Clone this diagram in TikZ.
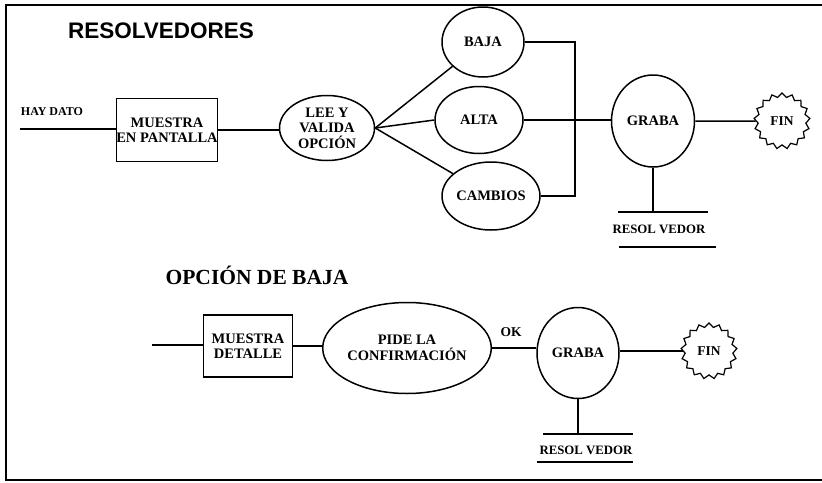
\documentclass[tikz,border=0pt]{standalone}
\usepackage{fontspec}
\setmainfont{Liberation Serif}
\newfontfamily\sansbold{Liberation Sans}
\usetikzlibrary{shapes.geometric}
\tikzset{
  lbl/.style={font=\fontsize{14.5}{15.5}\selectfont\bfseries, align=center, inner sep=0pt},
  smalllbl/.style={lbl, font=\fontsize{13.5}{15}\selectfont\bfseries},
  storelbl/.style={lbl, font=\fontsize{12.8}{14}\selectfont\bfseries},
  procbox/.style={lbl, draw, line width=1.5pt, rectangle},
  procell/.style={lbl, draw, line width=1.5pt, ellipse, inner sep=0pt},
  finstar/.style={smalllbl, draw, line width=1.2pt, star, star points=17, star point ratio=1.17, minimum size=56pt},
  conn/.style={line width=1.5pt},
}
\begin{document}
\begin{tikzpicture}[x=1pt, y=-1pt]
\useasboundingbox (0,0) rectangle (822,482);
% frame
\draw[line width=1.4pt] (822,5) -- (6,5) -- (6,480) -- (822,480);

% ---------- RESOLVEDORES ----------
\node[font=\sansbold\bfseries\fontsize{22.5}{24}\selectfont, inner sep=0pt] (title1) at (161,31) {RESOLVEDORES};
\node[lbl, font=\fontsize{12}{13}\selectfont\bfseries] (hay) at (52,112) {HAY DATO};
\coordinate (start1) at (20,129);
\node[procbox, minimum width=101pt, minimum height=63pt] (box1) at (167,130) {MUESTRA\\EN PANTALLA};
\node[procell, minimum width=95pt, minimum height=65pt] (lee) at (327,128) {LEE Y\\VALIDA\\OPCIÓN};
\node[procell, minimum width=82pt, minimum height=70pt] (baja) at (483,42) {BAJA};
\node[procell, minimum width=88pt, minimum height=67pt] (alta) at (479,120) {ALTA};
\node[procell, minimum width=86pt, minimum height=68pt] (cambios) at (491,196) {CAMBIOS};
\node[procell, minimum width=83pt, minimum height=92pt] (graba) at (653,121) {GRABA};
\node[finstar] (fin1) at (782,121) {FIN};
\coordinate (join) at (575,42);
\coordinate (bar1) at (660,212);
\node[storelbl] (res1) at (659,229) {RESOL VEDOR};

\draw[conn] (start1) -- (box1.west |- start1);
\draw[conn] (box1.east) -- (lee.west |- box1.east);
\draw[conn] (lee.east) -- (baja);
\draw[conn] (lee.east) -- (alta.west);
\draw[conn] (lee.east) -- (cambios);
\draw[conn] (baja.east) -- (join) -- (join |- cambios.east) -- (cambios.east);
\draw[conn] (alta.east) -- (graba.west |- alta.east);
\draw[conn] (graba.east) -- (fin1.180);
\draw[conn] (graba.south) -- (graba.south |- bar1);
\draw[conn] ([xshift=-42pt]bar1) -- ([xshift=48pt]bar1);
\draw[line width=1.2pt] ([xshift=-41pt,yshift=-35pt]bar1) -- ([xshift=56pt,yshift=-35pt]bar1);

% ---------- OPCION DE BAJA ----------
\node[font=\fontsize{21.5}{23}\selectfont\bfseries, inner sep=0pt] (title2) at (257,275) {OPCIÓN DE BAJA};
\coordinate (start2) at (152,345);
\node[procbox, minimum width=89pt, minimum height=62pt] (box2) at (248,346) {MUESTRA\\DETALLE};
\node[procell, minimum width=127pt, minimum height=91pt] (pide) at (407,348) {PIDE LA\\CONFIRMACIÓN};
\node[procell, minimum width=82pt, minimum height=91pt] (graba2) at (578,353) {GRABA};
\node[smalllbl] (ok) at (511,332) {OK};
\node[finstar] (fin2) at (709,351) {FIN};
\coordinate (bar2) at (582,434);
\node[storelbl] (res2) at (586,450) {RESOL VEDOR};

\draw[conn] (start2) -- (box2.west |- start2);
\draw[conn] (box2.east) -- (pide.west |- box2.east);
\draw[conn] (pide.east) -- (graba2.west |- pide.east);
\draw[conn] (graba2.east |- fin2.180) -- (fin2.180);
\draw[conn] (graba2.south) -- (graba2.south |- bar2);
\draw[conn] ([xshift=-39pt]bar2) -- ([xshift=51pt]bar2);
\draw[line width=1.2pt] ([xshift=-45pt,yshift=-28pt]bar2) -- ([xshift=51pt,yshift=-28pt]bar2);
\end{tikzpicture}
\end{document}
